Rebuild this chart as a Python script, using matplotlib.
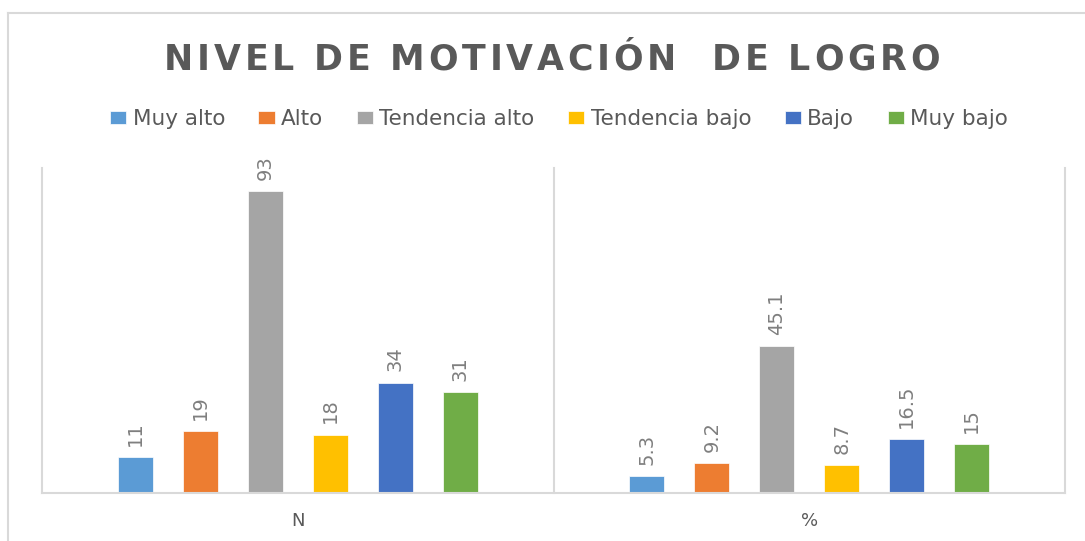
import numpy as np
import matplotlib.pyplot as plt
from matplotlib.lines import Line2D
from matplotlib.font_manager import FontProperties

# data
categories = ["N", "%"]
series_names = ["Muy alto", "Alto", "Tendencia alto", "Tendencia bajo", "Bajo", "Muy bajo"]
values_n = [11, 19, 93, 18, 34, 31]
values_pct = [5.3, 9.2, 45.1, 8.7, 16.5, 15]
label_n = ["11", "19", "93", "18", "34", "31"]
label_pct = ["5.3", "9.2", "45.1", "8.7", "16.5", "15"]
colors = ["#5B9BD5", "#ED7D31", "#A5A5A5", "#FFC000", "#4472C4", "#70AD47"]
title = "NIVEL DE MOTIVACIÓN  DE LOGRO"

W, H = 1085, 541
fig = plt.figure(figsize=(W / 100, H / 100), dpi=100)
fig.patch.set_facecolor("white")

# outer chart border (right and bottom fall off the image)
fig.add_artist(Line2D([8 / W, 8 / W], [0, 1 - 13 / H], color="#d9d9d9", lw=1.5))
fig.add_artist(Line2D([8 / W, 1], [1 - 13 / H, 1 - 13 / H], color="#d9d9d9", lw=1.5))

ax = fig.add_axes([42 / W, 48 / H, (1065 - 42) / W, (493 - 168) / H])
ax.set_xlim(-0.5, 1.5)
ax.set_ylim(0, 100)
for s in ax.spines.values():
    s.set_visible(False)
ax.set_yticks([])
ax.set_xticks([0, 1])
ax.set_xticklabels(categories, color="#595959", fontsize=13)
ax.tick_params(axis="x", length=0, pad=14)

x = np.arange(len(categories))
step = 0.127
width = 0.069
for i, name in enumerate(series_names):
    vals = [values_n[i], values_pct[i]]
    labs = [label_n[i], label_pct[i]]
    bars = ax.bar(x + (i - 2.5) * step, vals, width, color=colors[i], label=name,
                  edgecolor="white", linewidth=0.5, zorder=3)
    for b, lab in zip(bars, labs):
        ax.annotate(lab, (b.get_x() + b.get_width() / 2, b.get_height()),
                    xytext=(0, 8), textcoords="offset points", rotation=90,
                    ha="center", va="bottom", color="#7f7f7f", fontsize=14)

# category separators and baseline
for xv in [-0.5, 0.5, 1.5]:
    ax.plot([xv, xv], [0, 100], color="#d9d9d9", lw=1.5, zorder=1, clip_on=False)
ax.plot([-0.5, 1.5], [0, 0], color="#d9d9d9", lw=1.5, zorder=4, clip_on=False)

# title with letter spacing
prop = FontProperties(family="DejaVu Sans", weight="bold", size=25)
renderer = fig.canvas.get_renderer()
adv = [renderer.get_text_width_height_descent(c, prop, ismath=False)[0] for c in title]
spacing = 3.8
total = sum(adv) + spacing * (len(title) - 1)
xpos = 552 - total / 2
for c, w in zip(title, adv):
    fig.text(xpos / W, 1 - 70 / H, c, ha="left", va="baseline",
             fontproperties=prop, color="#595959")
    xpos += w + spacing

leg = fig.legend(loc="center", bbox_to_anchor=(559 / W, 1 - 119 / H), ncol=6,
                 frameon=False, fontsize=15.5, handlelength=0.75, handleheight=0.58,
                 handletextpad=0.3, columnspacing=1.55, labelcolor="#595959")

fig.savefig("out.png", dpi=100)
